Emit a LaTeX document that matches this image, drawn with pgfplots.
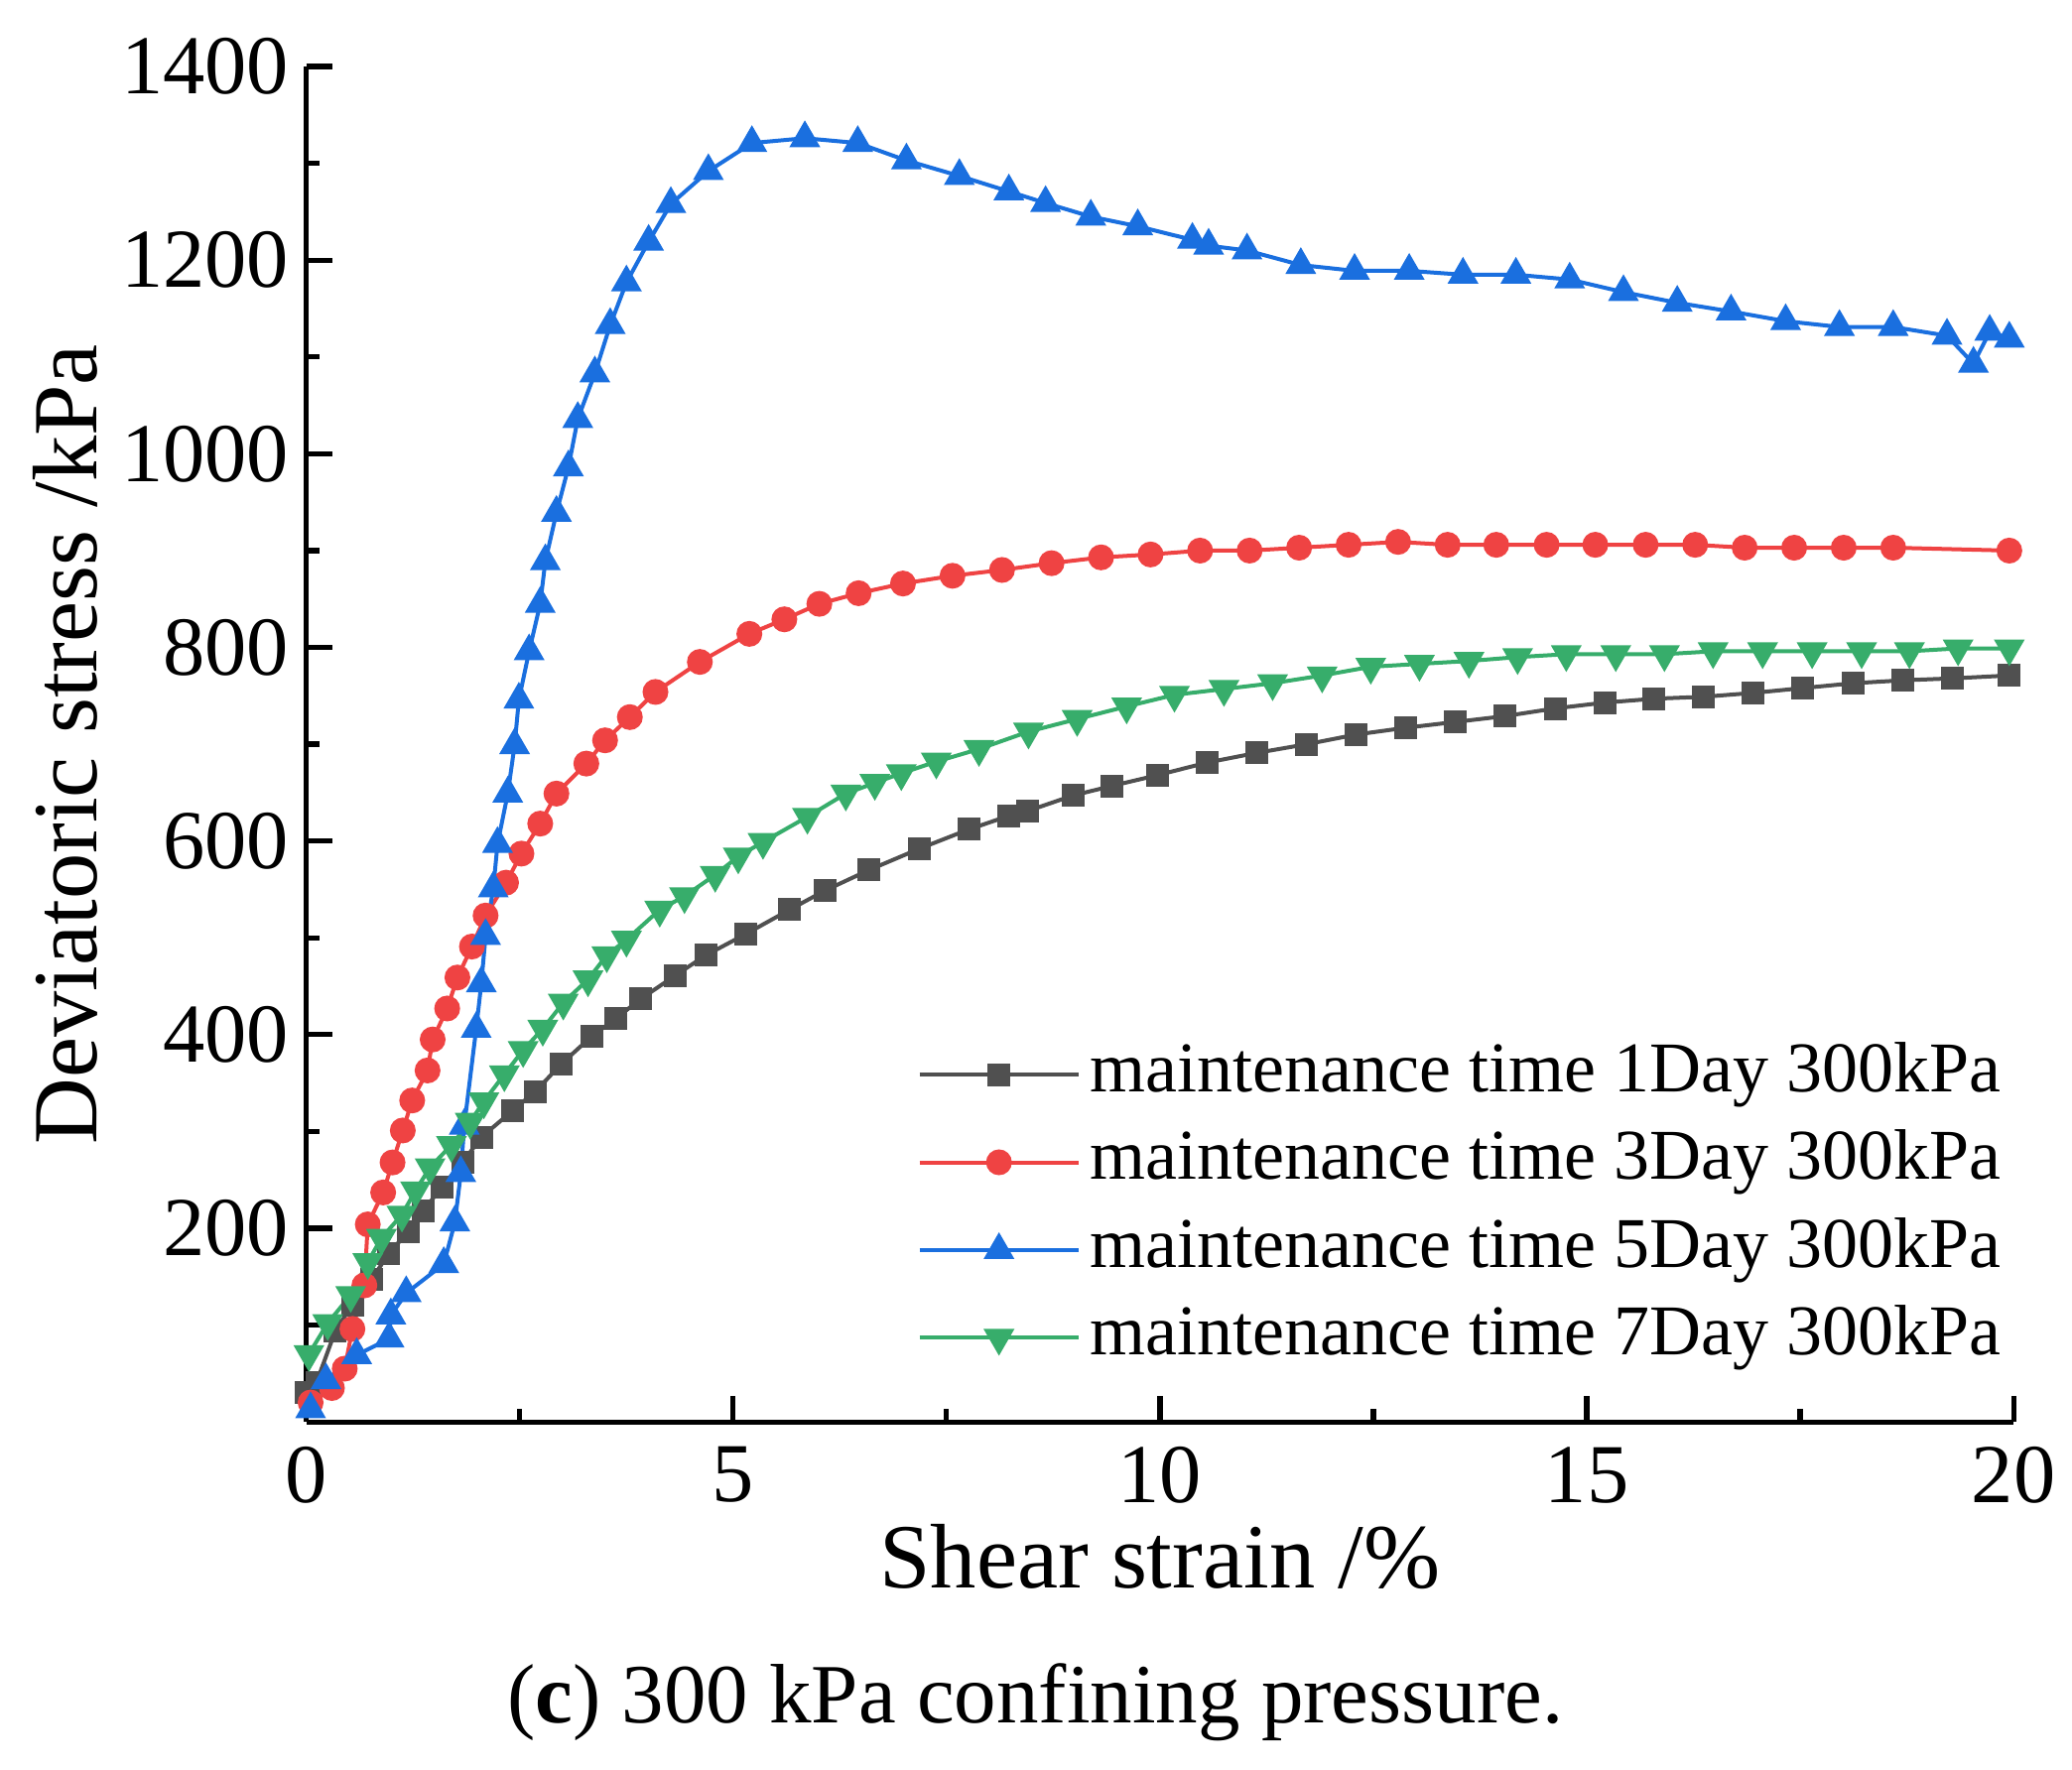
\documentclass[border=0pt]{standalone}
\usepackage{fontspec}
\setmainfont{Liberation Serif}
\usepackage{pgfplots}
\pgfplotsset{compat=1.18}

\definecolor{c1}{HTML}{505050}
\definecolor{c3}{HTML}{EF4343}
\definecolor{c5}{HTML}{1A6FDF}
\definecolor{c7}{HTML}{37AD6B}

\begin{document}
\begin{tikzpicture}
\begin{axis}[
  scale only axis,
  width=344.2pt, height=273.3pt,
  xmin=0, xmax=20, ymin=0, ymax=1400,
  axis lines=left,
  axis line style={line width=1.05pt, -},
  every tick/.style={black, line width=1.05pt},
  tick align=inside,
  major tick length=5.3pt, minor tick length=2.7pt,
  xtick={0,5,10,15,20},
  ytick={200,400,600,800,1000,1200,1400},
  minor xtick={2.5,7.5,12.5,17.5},
  minor ytick={100,300,500,700,900,1100,1300},
  /pgf/number format/assume math mode=true,
  /pgf/number format/1000 sep={},
  tick label style={font=\fontsize{16.9}{18}\selectfont},
  xticklabel style={yshift=-1.5pt},
  xlabel={Shear strain /\%},
  ylabel={Deviatoric stress /kPa},
  label style={font=\fontsize{18.5}{20}\selectfont},
  xlabel style={at={(axis description cs:0.5,-0.1222)}, anchor=base},
  ylabel style={at={(axis description cs:-0.1226,0.5)}, anchor=base, rotate=0},
  clip=false,
  legend cell align=left,
  legend style={draw=none, fill=none, at={(axis description cs:0.3575,0.2808)},
    anchor=north west, inner sep=0pt, row sep=4.7pt,
    font=\fontsize{14.4}{16}\selectfont,
    nodes={text height=10pt, text depth=3pt, inner ysep=0pt}},
  legend image code/.code={
    \draw[mark repeat=2, mark phase=2] plot coordinates {(0pt,0pt) (16pt,0pt) (32pt,0pt)};
  },
  every axis plot/.append style={line width=0.8pt},
]

\addplot[c1, mark=square*, mark size=1.9pt, mark options={solid}] coordinates {
(0,30) (0.12,41) (0.34,94) (0.54,121) (0.765,147) (0.965,174) (1.19,196)
(1.37,218) (1.59,243) (1.83,268) (2.05,294) (2.41,321) (2.68,341) (2.99,370)
(3.34,398) (3.63,417) (3.92,437) (4.32,461) (4.68,482) (5.15,504) (5.66,529)
(6.08,549) (6.59,570) (7.18,592) (7.76,612) (8.23,626) (8.45,631) (8.98,647)
(9.44,657) (9.97,668) (10.55,681) (11.13,691) (11.72,700) (12.30,710)
(12.88,717) (13.46,723) (14.04,729) (14.63,737) (15.21,743) (15.79,747)
(16.37,749) (16.95,753) (17.53,758) (18.12,763) (18.70,766) (19.28,768)
(19.95,771)
};
\addlegendentry{maintenance time 1Day 300kPa}

\addplot[c3, mark=*, mark size=2.2pt] coordinates {
(0.05,20) (0.30,35) (0.45,55) (0.54,96) (0.68,141) (0.72,204) (0.90,237)
(1.01,268) (1.13,301) (1.24,332) (1.42,363) (1.48,395) (1.65,427) (1.77,459)
(1.94,491) (2.10,523) (2.34,557) (2.52,587) (2.74,618) (2.93,649) (3.28,680)
(3.50,704) (3.79,728) (4.09,754) (4.61,785) (5.19,814) (5.60,829) (6.01,845)
(6.47,856) (6.99,866) (7.57,874) (8.15,880) (8.73,887) (9.31,893) (9.89,896)
(10.47,900) (11.05,900) (11.63,903) (12.21,906) (12.79,909) (13.37,906)
(13.94,906) (14.53,906) (15.10,906) (15.69,906) (16.27,906) (16.85,903)
(17.43,903) (18.01,903) (18.59,903) (19.95,900)
};
\addlegendentry{maintenance time 3Day 300kPa}

\addplot[c5, mark=triangle*, mark size=2.8pt] coordinates {
(0.05,13) (0.23,43) (0.59,69) (0.97,86) (0.99,110) (1.17,133) (1.61,163)
(1.74,206) (1.81,257) (1.85,306) (1.99,406) (2.05,453) (2.10,502) (2.19,551)
(2.24,597) (2.36,649) (2.44,699) (2.49,746) (2.61,796) (2.74,845) (2.80,889)
(2.93,939) (3.07,986) (3.18,1036) (3.38,1083) (3.56,1133) (3.75,1177)
(4.01,1219) (4.27,1258) (4.71,1292) (5.22,1321) (5.84,1326) (6.46,1321)
(7.03,1303) (7.65,1287) (8.23,1271) (8.66,1259) (9.19,1245) (9.74,1235)
(10.38,1221) (10.57,1215) (11.02,1210) (11.65,1195) (12.28,1189) (12.92,1189)
(13.55,1185) (14.17,1185) (14.80,1180) (15.43,1167) (16.06,1156) (16.69,1147)
(17.33,1137) (17.96,1131) (18.59,1131) (19.22,1122) (19.53,1093) (19.72,1126)
(19.95,1119)
};
\addlegendentry{maintenance time 5Day 300kPa}

\addplot[c7, mark=triangle*, mark size=2.8pt, mark options={rotate=180}] coordinates {
(0.03,70) (0.25,102) (0.52,131) (0.72,165) (0.88,190) (1.12,214) (1.28,239)
(1.45,263) (1.70,286) (1.92,310) (2.08,331) (2.32,359) (2.54,384) (2.77,406)
(3.01,433) (3.30,457) (3.52,482) (3.75,498) (4.14,529) (4.43,543) (4.79,565)
(5.06,584) (5.35,599) (5.87,625) (6.32,649) (6.66,660) (6.97,670) (7.38,682)
(7.88,695) (8.46,713) (9.03,726) (9.61,739) (10.17,751) (10.75,757)
(11.32,763) (11.90,771) (12.47,780) (13.04,783) (13.62,786) (14.19,790)
(14.76,793) (15.34,793) (15.91,793) (16.48,796) (17.06,796) (17.64,796)
(18.22,796) (18.78,796) (19.35,799) (19.95,799)
};
\addlegendentry{maintenance time 7Day 300kPa}

\node[anchor=base, font=\fontsize{17}{19}\selectfont]
  at (axis description cs:0.427,-0.2221) {(\textbf{c}) 300 kPa confining pressure.};
\end{axis}
\path (current axis.south west) ++(-61.76pt,-70.08pt) rectangle ++(417.6pt,356.8pt);
\end{tikzpicture}
\end{document}
